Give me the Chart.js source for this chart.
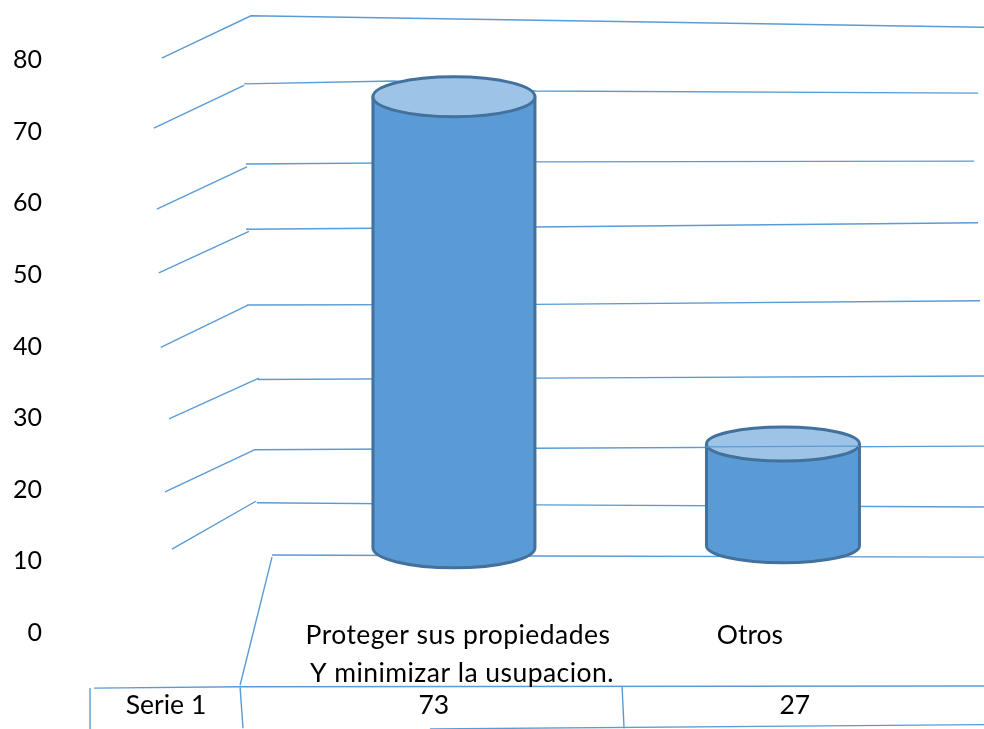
<!DOCTYPE html>
<html>
<head>
<meta charset="utf-8">
<title>Serie 1</title>
<script src="https://cdn.jsdelivr.net/npm/chart.js@4/dist/chart.umd.min.js"></script>
<style>
  html, body { margin: 0; padding: 0; background: #fff; }
  canvas { display: block; }
</style>
</head>
<body>
<canvas id="chart_1" width="984" height="729"></canvas>
<script>
// values as printed in the data table under the chart
var seriesName = "Serie 1";
var categories = [["Proteger sus propiedades", "Y minimizar la usupacion."], ["Otros"]];
var seriesValues = [73, 27];
var yTicks = [0, 10, 20, 30, 40, 50, 60, 70, 80];

// cylinders (x is counted in category slots)
var barSlots = [1, 2];
var barBases = [11.9, 12.2];
var barTops = [74.9, 26.4];

// back wall lines, a null in Y breaks the line
var wall80X = [0.112, 0.383, 2.611];
var wall80Y = [80.3, 86.2, 84.6];
var wall70X = [0.088, 0.362, 0.362, 0.362, 0.818, 1.249, 2.593];
var wall70Y = [70.5, 76.5, null, 76.7, 77.1, 75.7, 75.4];
var wall60X = [0.097, 0.371, 0.371, 0.368, 1.246, 2.581];
var wall60Y = [59.2, 65.1, null, 65.5, 65.8, 65.9];
var wall50X = [0.103, 0.377, 0.377, 0.368, 1.246, 2.593];
var wall50Y = [50.3, 56.1, null, 56.4, 56.7, 57.3];
var wall40X = [0.109, 0.374, 0.374, 0.371, 1.246, 2.599];
var wall40Y = [39.9, 45.8, null, 45.8, 45.9, 46.4];
var wall30X = [0.134, 0.407, 0.407, 0.404, 1.246, 2.611];
var wall30Y = [29.9, 35.6, null, 35.4, 35.6, 35.9];
var wall20X = [0.122, 0.395, 0.395, 0.392, 1.246, 2.611];
var wall20Y = [19.7, 25.6, null, 25.6, 25.8, 26.1];
var wall10X = [0.143, 0.398, 0.398, 0.401, 1.246, 2.611];
var wall10Y = [11.7, 18.4, null, 18.2, 17.9, 17.6];
var wall0X = [0.350, 0.447, 0.447, 0.447, 1.246, 2.611];
var wall0Y = [-7.3, 10.6, null, 10.9, 10.75, 10.6];
// the one line that runs over the lid of the second cylinder
var lidLineX = [1.766, 2.231];
var lidLineY = [26.0, 26.1];

// data table rules
var tableTopX = [-0.094, 0.350, 2.611];
var tableTopY = [-7.7, -7.5, -7.4];
var tableBottomX = [0.927, 2.611];
var tableBottomY = [-13.4, -12.8];
var tableLeftX = [-0.106, -0.106];
var tableLeftY = [-7.7, -13.4];
var tableCol1X = [0.350, 0.359];
var tableCol1Y = [-7.6, -13.3];
var tableCol2X = [1.511, 1.517];
var tableCol2Y = [-7.5, -13.3];

var FONT = "Lato, 'Open Sans', sans-serif";
var BLUE = "#5B9BD5";

function toPoints(xs, ys) {
  var pts = [];
  for (var i = 0; i < xs.length; i++) {
    pts.push({ x: xs[i], y: ys[i] });
  }
  return pts;
}

function lineSet(xs, ys, order) {
  return {
    type: "line",
    data: toPoints(xs, ys),
    borderColor: BLUE,
    borderWidth: 1.4,
    pointRadius: 0,
    tension: 0,
    fill: false,
    spanGaps: false,
    clip: false,
    order: order
  };
}

function barSet(i, thickness, lidRadius) {
  return {
    type: "bar",
    data: [{ x: barSlots[i], y: [barBases[i], barTops[i]] }],
    backgroundColor: BLUE,
    borderWidth: 0,
    barThickness: thickness,
    grouped: false,
    clip: false,
    lidRadius: lidRadius,
    order: 1
  };
}

// turns the flat bars into cylinders
var cylinderPlugin = {
  id: "cylinder",
  afterDatasetDraw: function (chart, args) {
    var ds = chart.data.datasets[args.index];
    if (ds.type !== "bar") return;
    var bar = args.meta.data[0];
    var ctx = chart.ctx;
    var rx = bar.width / 2;
    var ry = ds.lidRadius;
    var left = bar.x - rx;
    var right = bar.x + rx;
    var top = bar.y;
    var bottom = bar.base;
    ctx.save();
    ctx.lineWidth = 3;
    ctx.strokeStyle = "#41719C";
    ctx.fillStyle = BLUE;
    ctx.beginPath();
    ctx.moveTo(left, top);
    ctx.lineTo(left, bottom);
    ctx.ellipse(bar.x, bottom, rx, ry, 0, Math.PI, 0, true);
    ctx.lineTo(right, top);
    ctx.fill();
    ctx.stroke();
    ctx.beginPath();
    ctx.ellipse(bar.x, top, rx, ry, 0, 0, Math.PI * 2);
    ctx.fillStyle = "#9DC3E6";
    ctx.fill();
    ctx.stroke();
    ctx.restore();
  },
  afterDraw: function (chart) {
    var ctx = chart.ctx;
    var x = chart.scales.x;
    var y = chart.scales.y;
    ctx.save();
    ctx.font = "26.5px " + FONT;
    ctx.fillStyle = "#000";
    ctx.textAlign = "center";
    ctx.textBaseline = "middle";
    // category labels sit on the level of the 0 tick
    var labelY = y.getPixelForValue(0) + 2;
    ctx.letterSpacing = "0.45px";
    ctx.fillText(categories[0][0], x.getPixelForValue(barSlots[0]) + 4, labelY);
    ctx.fillText(categories[0][1], x.getPixelForValue(barSlots[0]) + 8, labelY + 38);
    ctx.letterSpacing = "0px";
    ctx.fillText(categories[1][0], x.getPixelForValue(barSlots[1]) - 33, labelY);
    // table row
    var rowY = y.getPixelForValue(-10) + 1;
    ctx.fillText(seriesName, x.getPixelForValue(0.125), rowY);
    ctx.fillText(String(seriesValues[0]), x.getPixelForValue(0.939), rowY);
    ctx.fillText(String(seriesValues[1]), x.getPixelForValue(2.036), rowY);
    ctx.restore();
  }
};

var ctx_1 = document.getElementById("chart_1").getContext("2d");
var chart_1 = new Chart(ctx_1, {
  data: {
    datasets: [
      lineSet(wall80X, wall80Y, 2),
      lineSet(wall70X, wall70Y, 2),
      lineSet(wall60X, wall60Y, 2),
      lineSet(wall50X, wall50Y, 2),
      lineSet(wall40X, wall40Y, 2),
      lineSet(wall30X, wall30Y, 2),
      lineSet(wall20X, wall20Y, 2),
      lineSet(wall10X, wall10Y, 2),
      lineSet(wall0X, wall0Y, 2),
      lineSet(tableTopX, tableTopY, 2),
      lineSet(tableBottomX, tableBottomY, 2),
      lineSet(tableLeftX, tableLeftY, 2),
      lineSet(tableCol1X, tableCol1Y, 2),
      lineSet(tableCol2X, tableCol2Y, 2),
      barSet(0, 162, 20),
      barSet(1, 153, 17),
      lineSet(lidLineX, lidLineY, 0)
    ]
  },
  options: {
    responsive: false,
    animation: false,
    layout: { padding: 0 },
    plugins: {
      legend: { display: false },
      tooltip: { enabled: false }
    },
    scales: {
      x: {
        type: "linear",
        display: false,
        offset: false,
        min: -0.173,
        max: 2.611
      },
      y: {
        type: "linear",
        min: -13.41,
        max: 88.41,
        grid: { display: false },
        border: { display: false },
        afterBuildTicks: function (scale) {
          scale.ticks = yTicks.map(function (v) { return { value: v }; });
        },
        afterFit: function (scale) {
          // labels are well inside the canvas, no margin needed for them
          scale.width = 68;
          scale.paddingTop = 0;
          scale.paddingBottom = 0;
        },
        ticks: {
          color: "#000",
          padding: 18,
          autoSkip: false,
          font: { family: FONT, size: 25 }
        }
      }
    }
  },
  plugins: [cylinderPlugin]
});
</script>
</body>
</html>
